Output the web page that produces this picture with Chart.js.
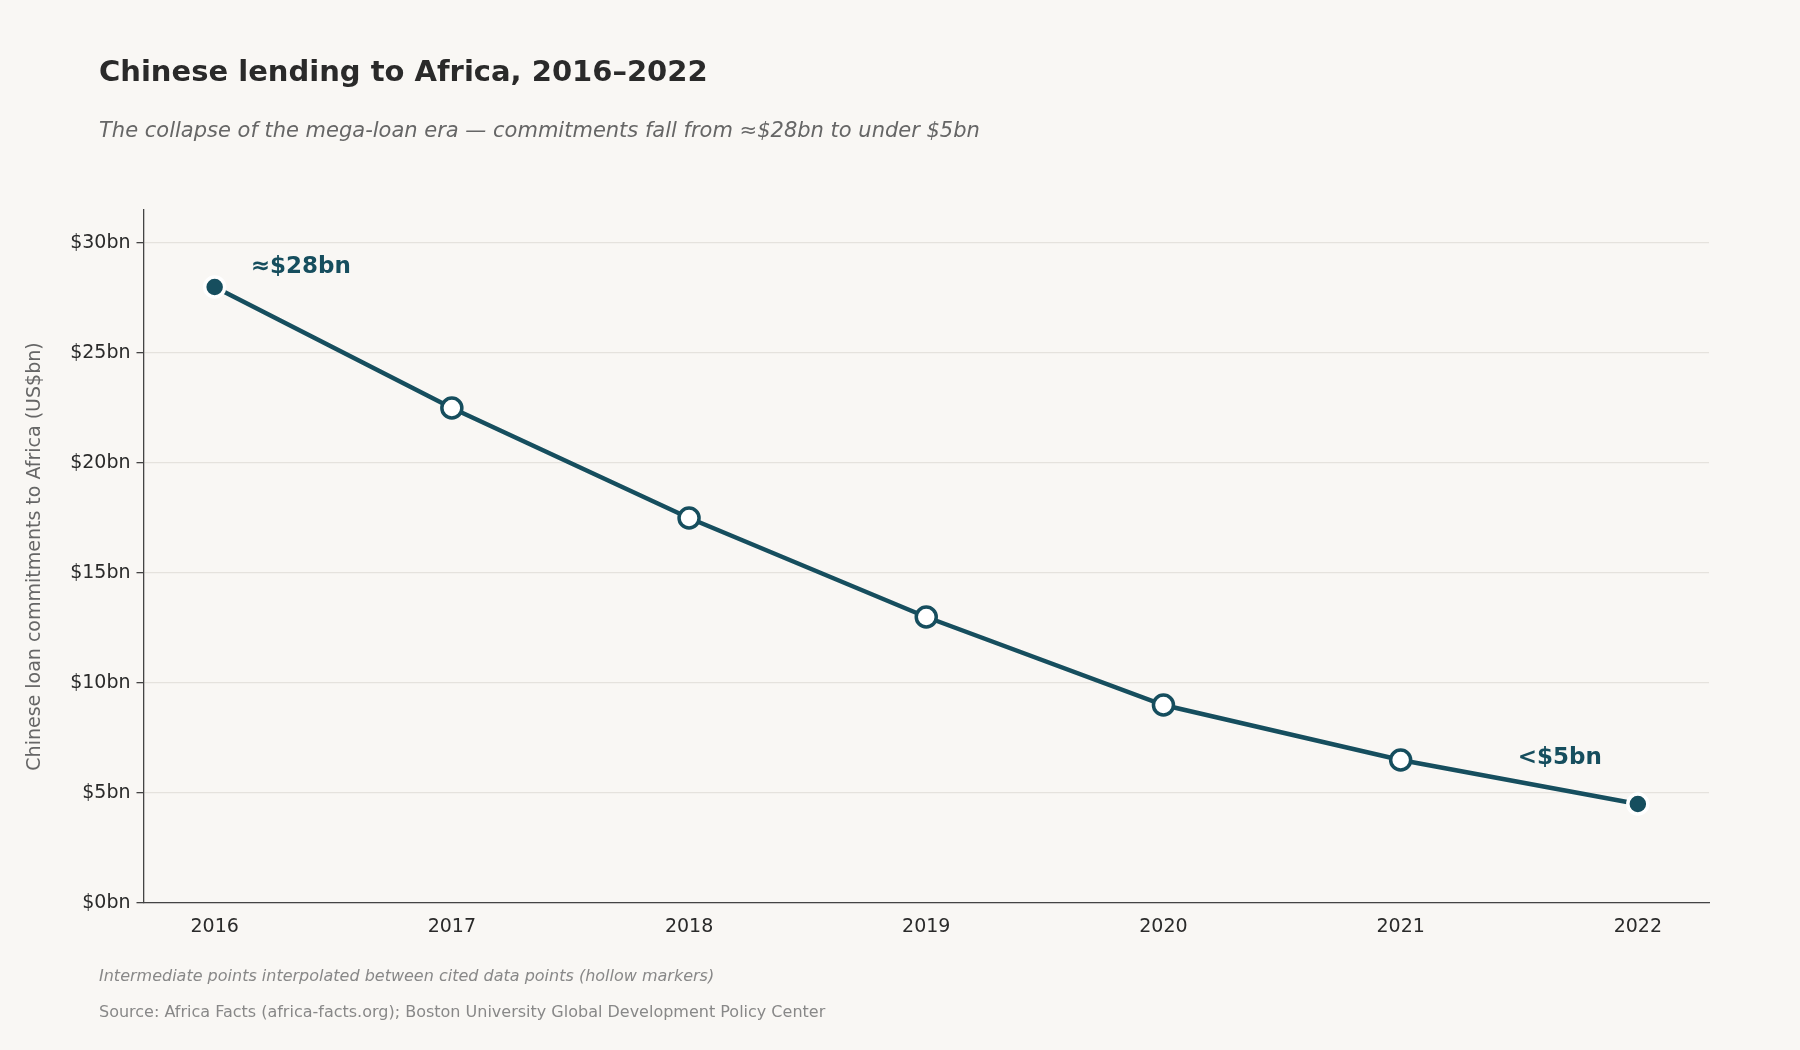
<!DOCTYPE html>
<html><head><meta charset="utf-8">
<script src="https://cdn.jsdelivr.net/npm/chart.js@4"></script>
<style>html,body{margin:0;padding:0;background:#f9f7f4;}#wrap{width:1800px;height:1050px;position:relative}</style>
</head><body><div id="wrap"><canvas id="c" width="1800" height="1050"></canvas></div>
<script>
const years = [2016, 2017, 2018, 2019, 2020, 2021, 2022];
const loans = [28, 22.5, 17.5, 13, 9, 6.5, 4.5];
const cited = [true, false, false, false, false, false, true];
const yTicks = [0, 5, 10, 15, 20, 25, 30];
const TEAL = '#164e5e';
const FONT = '"DejaVu Sans", sans-serif';

const textPlugin = {
  id: 'texts',
  afterDraw(chart) {
    const ctx = chart.ctx, x = chart.scales.x, y = chart.scales.y;
    ctx.save();
    ctx.textBaseline = 'alphabetic'; ctx.textAlign = 'left';
    ctx.fillStyle = '#2a2a2a'; ctx.font = 'bold 29px ' + FONT;
    ctx.fillText('Chinese lending to Africa, 2016–2022', 99, 81);
    ctx.fillStyle = '#666'; ctx.font = 'italic 21px ' + FONT;
    ctx.fillText('The collapse of the mega-loan era — commitments fall from ≈$28bn to under $5bn', 99, 137);
    ctx.fillStyle = '#888'; ctx.font = 'italic 16px ' + FONT;
    ctx.fillText('Intermediate points interpolated between cited data points (hollow markers)', 99, 981);
    ctx.font = '16px ' + FONT;
    ctx.fillText('Source: Africa Facts (africa-facts.org); Boston University Global Development Policy Center', 99, 1017);
    ctx.fillStyle = TEAL; ctx.font = 'bold 23px ' + FONT;
    ctx.fillText('≈$28bn', x.getPixelForValue(years[0]) + 36, y.getPixelForValue(loans[0]) + 30 - 44);
    ctx.textAlign = 'right';
    ctx.fillText('<$5bn', x.getPixelForValue(years[6]) - 36, y.getPixelForValue(loans[6]) - 40);
    ctx.restore();
  }
};

new Chart(document.getElementById('c'), {
  type: 'line',
  data: { datasets: [{
    data: years.map((yr, i) => ({x: yr, y: loans[i]})),
    borderColor: TEAL, borderWidth: 4.5, tension: 0,
    pointRadius: 10, pointHoverRadius: 10, pointBorderWidth: 3.5,
    pointBackgroundColor: cited.map(c => c ? TEAL : '#ffffff'),
    pointBorderColor: cited.map(c => c ? '#ffffff' : TEAL)
  }]},
  options: {
    responsive: false, animation: false, devicePixelRatio: 1,
    layout: { padding: { left: 20, right: 91, top: 210, bottom: 87 } },
    plugins: { legend: {display: false}, tooltip: {enabled: false}, title: {display: false} },
    scales: {
      x: { type: 'linear', min: 2015.7, max: 2022.3,
        afterBuildTicks: s => { s.ticks = years.map(v => ({value: v})); },
        afterFit: s => { s.height = 60; },
        grid: { display: false, drawTicks: true, tickLength: 7, color: '#444' },
        border: { color: '#444', width: 1.3 },
        ticks: { color: '#2a2a2a', font: {family: FONT, size: 19}, padding: 6, callback: v => String(v) } },
      y: { min: 0, max: 31.5,
        afterBuildTicks: s => { s.ticks = yTicks.map(v => ({value: v})); },
        afterFit: s => { s.width = 123.5; },
        grid: { color: '#e5e2dd', lineWidth: 1.3, tickColor: '#444', tickLength: 7 },
        border: { color: '#444', width: 1.3 },
        ticks: { color: '#2a2a2a', font: {family: FONT, size: 19}, padding: 6, callback: v => '$' + v + 'bn' },
        title: { display: true, text: 'Chinese loan commitments to Africa (US$bn)', color: '#666',
          font: {family: FONT, size: 19}, padding: {bottom: 8} } }
    }
  },
  plugins: [textPlugin]
});
</script></body></html>
